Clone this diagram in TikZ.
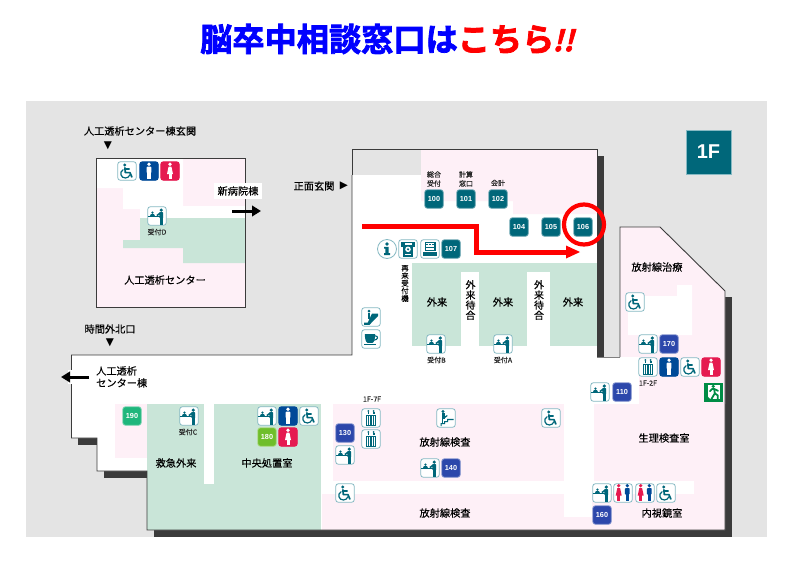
\documentclass[tikz,border=0pt]{standalone}
\usepackage{fontspec}
\setmainfont{Liberation Sans}
\newfontfamily\cjk[FakeBold=0.25]{Noto Sans CJK JP}
\newfontfamily\cjkfat[FakeBold=2.4]{Noto Sans CJK JP Bold}
\newfontfamily\dejavu{DejaVu Sans}
\usetikzlibrary{arrows.meta,calc}
\definecolor{bggray}{HTML}{E4E4E4}
\definecolor{roompink}{HTML}{FEF0F7}
\definecolor{roomgreen}{HTML}{C9E5D8}
\definecolor{teal1}{HTML}{00677A}
\definecolor{edge1}{HTML}{86B9C3}
\definecolor{num2}{HTML}{2C47AB}
\definecolor{num3}{HTML}{1FB67C}
\definecolor{num4}{HTML}{6FBE2B}
\definecolor{manblue}{HTML}{004A98}
\definecolor{womanred}{HTML}{E51A50}
\definecolor{wallgray}{HTML}{3B3B3B}
\definecolor{exitgreen}{HTML}{008C45}
\tikzset{
  x=1pt,y=-1pt,
  room/.style={fill=roompink,draw=none},
  greenroom/.style={fill=roomgreen,draw=none},
  whitearea/.style={fill=white,draw=none},
  wallshadow/.style={fill=wallgray,draw=none},
  wall/.style={draw=wallgray,line width=0.9pt,line join=miter},
  iconbox/.style={minimum size=18.5pt,inner sep=0pt,rounded corners=2.6pt,line width=0.8pt},
  outicon/.style={iconbox,fill=white,draw=edge1},
  numicon/.style={iconbox,fill=#1,draw=#1!55!white,text=white,font=\bfseries\fontsize{7.3}{7.3}\selectfont},
  tealnum/.style={numicon=teal1},
  bluenum/.style={numicon=num2},
  greennum/.style={numicon=num3},
  limenum/.style={numicon=num4},
  manicon/.style={iconbox,fill=manblue,draw=manblue},
  womanicon/.style={iconbox,fill=womanred,draw=womanred},
  txtbig/.style={inner sep=0pt,font=\cjk\fontsize{10.2}{12}\selectfont,text=black},
  txtsmall/.style={inner sep=0pt,font=\cjk\fontsize{7}{9}\selectfont,align=center,text=black!85},
  vert/.style={inner sep=0pt,align=center,text=black},
  blackarrow/.style={line width=3pt,-{Triangle[length=9pt,width=10.5pt]},black},
  markfont/.style={inner sep=0pt,font=\dejavu\fontsize{10.5}{10.5}\selectfont},
}
% pictograms, drawn around the centre of an icon
\newcommand{\wheelg}[1]{\begin{scope}[shift={(#1)}]
  \fill[teal1] (-2.2,-6) circle (1.6);
  \draw[teal1,line width=1.7pt,line join=round,line cap=round] (-2.1,-3.2) -- (-1.7,1.6) -- (3,1.6) -- (4.8,6);
  \draw[teal1,line width=1.3pt,line cap=round] (-2,-2) -- (2.2,-2);
  \draw[teal1,line width=1.2pt,line cap=round] (-3.9,-1.3) .. controls (-8,1) and (-6.2,7.3) .. (-1.5,7) .. controls (0.8,6.9) and (2.2,5.6) .. (2.8,3.8);
\end{scope}}
\newcommand{\mang}[2]{\begin{scope}[shift={(#1)},fill=#2]
  \fill (0,-6.8) circle (1.8);
  \fill[rounded corners=0.8] (-2.4,-4.4) rectangle (2.4,2);
  \fill (-1.6,0) rectangle (1.6,8);
\end{scope}}
\newcommand{\womang}[2]{\begin{scope}[shift={(#1)},fill=#2]
  \fill (0,-6.8) circle (1.8);
  \fill (-1.4,-4.4) -- (1.4,-4.4) -- (3,3) -- (-3,3) -- cycle;
  \fill (-1.5,2) rectangle (1.5,8);
\end{scope}}
\newcommand{\recg}[1]{\begin{scope}[shift={(#1)},fill=teal1]
  \fill (-8.6,-0.2) rectangle (2.5,1.3);
  \fill (-4.6,-3.4) circle (1.25);
  \fill (-7,-0.2) -- (-6.2,-1.8) -- (-3,-1.8) -- (-2.2,-0.2) -- cycle;
  \fill (4.3,-5.9) circle (1.8);
  \fill[rounded corners=0.6] (2.4,-3.8) rectangle (6.2,2.2);
  \fill (2.8,-3.6) -- (2.8,-1.4) -- (0.4,0) -- (-0.6,-1) -- cycle;
  \fill (2.8,2) rectangle (5.8,8.8);
\end{scope}}
\newcommand{\elevg}[1]{\begin{scope}[shift={(#1)},fill=teal1]
  \fill (-4.8,-3.2) rectangle (4.8,8);
  \fill[white] (-3.6,-2) rectangle (3.6,6.8);
  \foreach \xo in {-2.4,-0.8,0.8,2.4}{\fill (\xo-0.4,-1.6) rectangle (\xo+0.4,6.8);}
  \fill (-2.6,-7) circle (1);
  \fill (2.6,-7) circle (1);
  \fill (-3.5,-6) rectangle (-1.7,-4.2);
  \fill (1.7,-6) rectangle (3.5,-4.2);
\end{scope}}
\newcommand{\stairg}[1]{\begin{scope}[shift={(#1)},fill=teal1]
  \fill (-5.5,8) -- (-5.5,5) -- (-2,5) -- (-2,3) -- (1,3) -- (1,0.8) -- (7.5,0.8) -- (7.5,2) -- (2.2,2) -- (2.2,4.2) -- (-0.8,4.2) -- (-0.8,6.2) -- (-4.3,6.2) -- (-4.3,8) -- cycle;
  \fill (-3,-6.5) circle (1.6);
  \fill (-4.5,-4.6) rectangle (-1.5,1);
  \fill (-4.2,0) rectangle (-2.6,5);
  \fill (-2,-1) -- (1,-3) -- (1.6,-2) -- (-1.8,0.6) -- cycle;
\end{scope}}
\newcommand{\escg}[1]{\begin{scope}[shift={(#1)},fill=teal1]
  \fill (-7,5.5) -- (-7,7.8) -- (-1.5,7.8) -- (7,-1) -- (7,-3.5) -- (1,-3.5) -- (-3.2,5.5) -- cycle;
  \fill (-2,-5.8) circle (1.5);
  \fill (-3.4,-4) rectangle (-0.6,1.5);
\end{scope}}
\newcommand{\atmg}[1]{\begin{scope}[shift={(#1)},fill=teal1]
  \fill (-7,-7) rectangle (7,-2.5);
  \fill (-5,-2.5) rectangle (5,7.5);
  \fill[white] (-3.5,-5.6) rectangle (3.5,-3.6);
  \fill[white] (0,0.3) circle (2.8);
  \fill (0,0.3) circle (1.2);
  \fill[white] (-3,5) rectangle (3,6.2);
\end{scope}}
\newcommand{\machg}[1]{\begin{scope}[shift={(#1)},fill=teal1]
  \fill (-5.5,-7.5) rectangle (5.5,2);
  \fill[white] (-4.2,-6.2) rectangle (4.2,-2);
  \foreach \xo in {-3,0,3}{\fill (\xo-0.8,-5.2) rectangle (\xo+0.8,-3.6);}
  \fill[white] (-4,-0.6) rectangle (4,0.7);
  \fill (-7.4,3) rectangle (7.4,6.8);
\end{scope}}
\newcommand{\cupg}[1]{\begin{scope}[shift={(#1)},fill=teal1]
  \fill (-6.2,-4.8) -- (4.2,-4.8) .. controls (4.2,1) and (2.5,3.8) .. (1.5,3.8) -- (-3.5,3.8) .. controls (-4.5,3.8) and (-6.2,1) .. (-6.2,-4.8) -- cycle;
  \draw[teal1,line width=1.1pt] (4,-3.2) .. controls (8,-3.2) and (7,1) .. (3,1.2);
  \fill (-7,5) rectangle (5,6.3);
\end{scope}}
\newcommand{\infog}[1]{\begin{scope}[shift={(#1)},fill=teal1]
  \fill (0,-5) circle (1.8);
  \fill (-2.8,-2.2) -- (1.6,-2.2) -- (1.6,4.2) -- (3,4.2) -- (3,6.2) -- (-3,6.2) -- (-3,4.2) -- (-1.6,4.2) -- (-1.6,-0.4) -- (-2.8,-0.4) -- cycle;
\end{scope}}
\newcommand{\toiletg}[1]{\mang{$(#1)+(4.3,-0.5)$}{manblue}\womang{$(#1)+(-4.3,-0.5)$}{womanred}}
\newcommand{\exitg}[1]{\begin{scope}[shift={(#1)}]
  \fill[exitgreen] (-9.5,-9.5) rectangle (9.5,9.5);
  \fill[white] (-5.2,-7.5) rectangle (6.8,7.2);
  \fill[exitgreen] (-5.2,4.5) -- (-5.2,7.2) -- (-2.8,7.2) -- cycle;
  \fill[exitgreen] (0.2,-5.6) circle (1.8);
  \draw[exitgreen,line width=1.8pt,line join=round,line cap=round] (-3,-0.8) -- (-0.8,-3) -- (1.2,-3) -- (1.8,1.4) -- (-1.6,7);
  \draw[exitgreen,line width=1.8pt,line join=round,line cap=round] (1.2,-3) -- (5,-1.2);
  \draw[exitgreen,line width=1.8pt,line join=round,line cap=round] (1.8,1.4) -- (4.8,3.4) -- (4.8,7.2);
\end{scope}}
\begin{document}
\begin{tikzpicture}
\useasboundingbox (0,0) rectangle (800,565);
\fill[white] (0,0) rectangle (800,565);
\fill[bggray] (26,101) rectangle (767,537);

% title
\node[inner sep=0pt,anchor=west,font=\cjkfat\fontsize{32.2}{33}\selectfont] (title) at (200,39)
  {\textcolor{blue}{脳卒中相談窓口は}\textcolor{red}{こちら}\kern-2pt\textcolor{red}{\addfontfeature{FakeSlant=0.25}\fontsize{29}{30}\selectfont !!}};

% floor badge
\node[minimum width=45pt,minimum height=44pt,inner sep=0pt,fill=teal1,draw=edge1,line width=0.4pt,text=white,font=\bfseries\fontsize{20}{20}\selectfont] (floor) at (708.5,152) {1F};

% wall shadows
\path[wallshadow] (597,156) rectangle (603.5,357);
\path[wallshadow] (725,297) rectangle (731.5,537);
\path[wallshadow] (154,530) rectangle (731.5,537);
\path[wallshadow] (78,438) rectangle (97,445);
\path[wallshadow] (104,471) rectangle (147,478);

% dialysis building
\path[room] (96,158) rectangle (245,307);
\path[whitearea] (96,158) -- (183,158) -- (183,206) -- (245,206) -- (245,218) -- (140,218) -- (140,209) -- (123,209) -- (123,188) -- (96,188) -- cycle;
\path[greenroom] (140,218) -- (245,218) -- (245,263) -- (183,263) -- (183,248) -- (123,248) -- (123,240) -- (140,240) -- cycle;
\draw[wall] (96,158) rectangle (245,307);

% main building
\path[whitearea] (352,149) -- (597,149) -- (597,357) -- (620,357) -- (620,227) -- (660,227) -- (725,291) -- (725,530) -- (147,530) -- (147,471) -- (97,471) -- (97,438) -- (71.5,438) -- (71.5,355) -- (352,355) -- cycle;
\path[fill=bggray] (352,149) rectangle (421,175);
\path[room] (421,149) -- (597,149) -- (597,214) -- (513,214) -- (513,201) -- (421,201) -- cycle;
\path[greenroom] (412,263) rectangle (597,346);
\path[whitearea] (461,272) rectangle (479,355);
\path[whitearea] (527,272) rectangle (550,355);
% radiotherapy
\path[room] (620,227) -- (660,227) -- (725,291) -- (725,404) -- (620,404) -- cycle;
\path[whitearea] (628,296) -- (677,296) -- (677,285) -- (692,285) -- (692,335) -- (628,335) -- cycle;
\path[whitearea] (597,357) rectangle (639,404);
% lower rooms
\path[room] (115,404) rectangle (147,458);
\path[greenroom] (147,404) rectangle (321,530);
\path[whitearea] (204,404) rectangle (214,484);
\path[room] (333,404) rectangle (564,481);
\path[room] (322,494) rectangle (725,530);
\path[room] (594,404) rectangle (725,481);
\path[room] (694,481) rectangle (725,494);
\path[whitearea] (564,494) rectangle (592,517);
% walls
\draw[wall] (352,175) -- (352,149) -- (597,149) -- (597,357);
\draw[wall,draw=gray,line width=0.7pt] (597,357) -- (620,357);
\draw[wall] (620,357) -- (620,227) -- (660,227) -- (725,291) -- (725,530) -- (147,530) -- (147,471) -- (97,471) -- (97,438) -- (71.5,438) -- (71.5,355) -- (352,355) -- (352,175);

% red route
\draw[red,line width=5pt,line join=miter] (362,226) -- (476,226) -- (476,252) -- (566,252);
\fill[red] (566,245.5) -- (580,252) -- (566,258.5) -- cycle;
\draw[red,line width=4.2pt] (584,224.5) circle (20);

% outside labels
\node[txtbig] (l-hd) at (140,131) {人工透析センター棟玄関};
\node[markfont] (m-hd) at (108,146) {▼};
\node[fill=white,minimum width=48pt,minimum height=16pt,inner sep=0pt,font=\cjk\fontsize{10.2}{12}\selectfont] (l-new) at (238,191) {新病院棟};
\coordinate (ar1a) at (232,211); \coordinate (ar1b) at (261,211);
\draw[blackarrow] (ar1a) -- (ar1b);
\node[txtbig] (l-main) at (314,186) {正面玄関};
\node[markfont] (m-main) at (344,186) {▶};
\node[txtbig] (l-night) at (110,329) {時間外北口};
\node[markfont] (m-night) at (110,343) {▼};
\fill[white] (68,370) rectangle (75,384);
\coordinate (ar2a) at (89,377); \coordinate (ar2b) at (61,377);
\draw[blackarrow] (ar2a) -- (ar2b);
\node[txtbig,anchor=north west,align=left] (l-hdw) at (96,366) {\fontsize{10.2}{12}\selectfont 人工透析\\センター棟};

% room labels
\node[txtbig] (r1) at (165,280) {人工透析センター};
\node[txtbig] (r2) at (437,302) {外来};
\node[txtbig] (r3) at (503,302) {外来};
\node[txtbig] (r4) at (573,302) {外来};
\node[vert,font=\cjk\fontsize{10}{10.2}\selectfont] (r5) at (470.5,300) {外\\来\\待\\合};
\node[vert,font=\cjk\fontsize{10}{10.2}\selectfont] (r6) at (539,300) {外\\来\\待\\合};
\node[vert,font=\cjk\fontsize{7.4}{7.6}\selectfont] (r7) at (405,283.5) {再\\来\\受\\付\\機};
\node[txtbig] (r8) at (657,267) {放射線治療};
\node[txtbig] (r9) at (664,438) {生理検査室};
\node[txtbig] (r10) at (662,513) {内視鏡室};
\node[txtbig] (r11) at (176,463) {救急外来};
\node[txtbig] (r12) at (267,463) {中央処置室};
\node[txtbig] (r13) at (445,442) {放射線検査};
\node[txtbig] (r14) at (445,513) {放射線検査};

% small labels
\node[txtsmall] (s1) at (157,232) {受付D};
\node[txtsmall] (s2) at (434,179) {総合\\受付};
\node[txtsmall] (s3) at (466,179) {計算\\窓口};
\node[txtsmall] (s4) at (498,183) {会計};
\node[txtsmall] (s5) at (436.5,360) {受付B};
\node[txtsmall] (s6) at (503,360) {受付A};
\node[txtsmall] (s7) at (188,432) {受付C};
\node[txtsmall] (s8) at (372,399) {1F-7F};
\node[txtsmall] (s9) at (648,383) {1F-2F};

% numbered icons
\node[tealnum] (n100) at (434,199) {100};
\node[tealnum] (n101) at (466,199) {101};
\node[tealnum] (n102) at (498,199) {102};
\node[tealnum] (n104) at (519,227) {104};
\node[tealnum] (n105) at (551,227) {105};
\node[tealnum] (n106) at (583,227) {106};
\node[tealnum] (n107) at (451,249) {107};
\node[bluenum] (n110) at (622,392) {110};
\node[bluenum] (n130) at (345,433) {130};
\node[bluenum] (n140) at (451,468) {140};
\node[bluenum] (n160) at (602,515) {160};
\node[bluenum] (n170) at (669,344) {170};
\node[greennum] (n190) at (132,416) {190};
\node[limenum] (n180) at (267,437) {180};

% wheelchair icons
\foreach \nm/\px/\py in {w1/127/171,w2/635/302,w3/690/367,w4/666/493,w5/309/416,w6/551/418,w7/345/493}{
  \node[outicon] (\nm) at (\px,\py) {};
  \wheelg{\nm}
}
% men
\foreach \nm/\px/\py in {m1/149/171,m2/669/367,m3/288/416}{
  \node[manicon] (\nm) at (\px,\py) {};
  \mang{\nm}{white}
}
% women
\foreach \nm/\px/\py in {f1/170/171,f2/711/367,f3/288/437}{
  \node[womanicon] (\nm) at (\px,\py) {};
  \womang{\nm}{white}
}
% reception desks
\foreach \nm/\px/\py in {d1/157/216,d2/436/344,d3/503/344,d4/648/344,d5/600/392,d6/602/493,d7/189/416,d8/267/416,d9/345/455,d10/430/468}{
  \node[outicon] (\nm) at (\px,\py) {};
  \recg{\nm}
}
% lifts
\foreach \nm/\px/\py in {e1/648/367,e2/371/418,e3/371/439}{
  \node[outicon] (\nm) at (\px,\py) {};
  \elevg{\nm}
}
% toilets
\foreach \nm/\px/\py in {t1/623/493,t2/645/493}{
  \node[outicon] (\nm) at (\px,\py) {};
  \toiletg{\nm}
}
\node[outicon] (stair) at (446,418) {}; \stairg{stair}
\node[outicon] (esc) at (371,317) {}; \escg{esc}
\node[outicon] (cup) at (371,339) {}; \cupg{cup}
\node[outicon] (atm) at (408,249) {}; \atmg{atm}
\node[outicon] (mach) at (430,249) {}; \machg{mach}
\node[outicon,circle,rounded corners=0pt,minimum size=19pt] (info) at (387,249) {}; \infog{info}
\node[minimum size=19pt,inner sep=0pt] (exit) at (713,392) {}; \exitg{exit}
\end{tikzpicture}
\end{document}
